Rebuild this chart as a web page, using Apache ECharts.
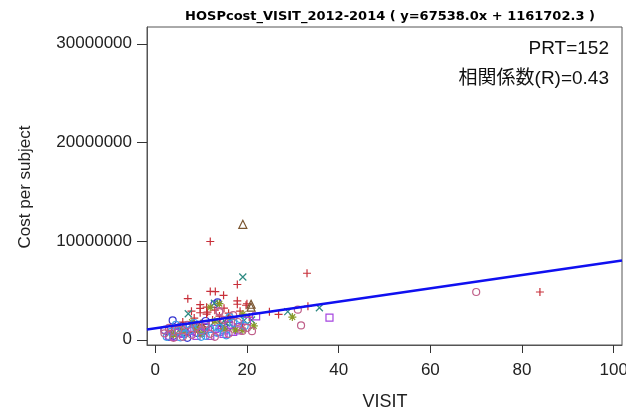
<!DOCTYPE html>
<html>
<head>
<meta charset="utf-8">
<script src="https://cdn.jsdelivr.net/npm/echarts@6/dist/echarts.min.js"></script>
<style>
  html, body { margin: 0; padding: 0; background: #fff; }
  #chart { width: 626px; height: 411px; }
</style>
</head>
<body>
<div id="chart"></div>
<script>
// Fit line coefficients (cost = slope * visits + intercept)
var fitSlope = 67538.0;
var fitIntercept = 1161702.3;

var titleText = 'HOSPcost_VISIT_2012-2014 ( y=67538.0x + 1161702.3 )';
var prtText = 'PRT=152';
var corrText = '相関係数(R)=0.43';

var xTicks = [0, 20, 40, 60, 80, 100];
var yTicks = [0, 10000000, 20000000, 30000000];

// Subjects by group: [visits, cost per subject]
var groupPlus = [
  [12, 9960000], [33.1, 6740000], [12, 4900000], [13.1, 4880000], [17.9, 5600000],
  [7.1, 4170000], [14.9, 4500000], [17.9, 3950000], [17.9, 3600000], [19.8, 3500000],
  [9.8, 3560000], [9.8, 3180000], [9.8, 2740000], [7.9, 2900000], [11.2, 3300000],
  [11.2, 2600000], [11.4, 2800000], [24.9, 2850000], [26.9, 2570000], [33.3, 3400000],
  [83.9, 4840000], [20, 3650000], [13, 3000000], [15, 3200000], [16, 2700000],
  [18.5, 2900000], [14, 2400000], [8.5, 2200000], [12.5, 2000000], [6, 1800000],
  [10, 1500000], [16.5, 2100000], [5, 1300000], [9, 1200000], [14, 1700000],
  [20.5, 2300000], [3.5, 900000], [7, 700000], [11, 1000000], [19, 1600000]
];
var groupX = [
  [19.1, 6360000], [7.2, 2640000], [12.9, 3700000], [19.4, 1960000], [28.9, 2850000],
  [35.8, 3250000], [14.3, 1600000], [15.5, 1700000], [8, 1500000], [5.5, 1100000],
  [10.5, 800000], [17, 1300000], [3, 600000], [12, 1400000], [21, 2000000]
];
var groupStar = [
  [12, 3300000], [14, 3660000], [19.1, 2600000], [29.9, 2300000], [19.1, 950000],
  [8, 1800000], [6, 800000], [10, 600000], [15, 1100000], [17.5, 1000000],
  [4, 500000], [13, 1900000], [21.5, 1400000], [9, 1100000]
];
var groupTriangle = [
  [19.1, 11700000], [20.9, 3600000], [20.9, 3300000], [16, 2200000], [10, 1600000]
];
var groupSquare = [
  [38, 2240000], [22, 2370000], [14.9, 600000], [18, 950000], [18, 1280000],
  [15.1, 950000], [6, 600000], [8, 900000], [10, 700000], [12, 400000],
  [4, 300000], [7, 1200000], [13, 1100000], [16, 1500000], [9, 400000],
  [11, 1300000], [20, 1900000], [5, 700000], [17, 800000], [3, 400000], [14, 800000]
];
var groupPinkCircle = [
  [70, 4840000], [31.1, 3050000], [31.8, 1450000], [21.1, 870000], [19, 900000],
  [14, 2800000], [14, 2900000], [2, 650000], [2, 950000], [4, 200000],
  [6, 300000], [8, 500000], [10, 900000], [12, 600000], [9, 1300000],
  [16, 600000], [18, 1800000], [5, 1000000], [11, 1600000], [13, 300000],
  [7, 1500000], [15, 2000000], [3, 1200000], [20, 1200000], [17, 2500000]
];
var groupBlueCircle = [
  [3.8, 1960000], [13.6, 3800000], [12.9, 3600000], [4, 400000], [5, 800000],
  [6, 1400000], [3, 300000], [7, 200000], [9, 700000], [11, 1900000],
  [2, 1000000], [15, 1300000], [8, 1100000]
];
var groupSkyCircle = [
  [16.2, 2300000], [4.5, 1500000], [6.5, 600000], [8.5, 1700000], [10, 300000],
  [12, 1100000], [14, 1200000], [17, 1700000], [18.5, 2100000], [11, 400000],
  [5.5, 250000], [7.5, 950000], [13.5, 700000], [19.5, 1400000], [3.5, 800000],
  [9.5, 1450000], [15.5, 450000], [2.5, 300000], [6, 1200000]
];

var xMin = -1.8, xMax = 101.8;
var yMin = -530000, yMax = 31700000;

var SYM_PLUS = 'path://M5,0 L5,10 M0,5 L10,5';
var SYM_X = 'path://M0,0 L10,10 M10,0 L0,10';
var SYM_STAR = 'path://M5,0 L5,10 M0,5 L10,5 M1.5,1.5 L8.5,8.5 M8.5,1.5 L1.5,8.5';

function markerSeries(name, data, symbol, size, color) {
  return {
    name: name,
    type: 'scatter',
    data: data,
    symbol: symbol,
    symbolSize: size,
    silent: true,
    itemStyle: { color: 'rgba(0,0,0,0)', borderColor: color, borderWidth: 1.2, opacity: 1 }
  };
}

var fitLine = [
  [xMin, fitSlope * xMin + fitIntercept],
  [xMax, fitSlope * xMax + fitIntercept]
];

var chart = echarts.init(document.getElementById('chart'), null, { renderer: 'canvas' });

var labelFont = 'Liberation Sans, Noto Sans CJK JP, sans-serif';

chart.setOption({
  animation: false,
  backgroundColor: '#fff',
  title: {
    text: titleText,
    left: 385,
    top: 5,
    textAlign: 'center',
    textStyle: { fontSize: 13, fontWeight: 'bold', color: '#000', fontFamily: 'DejaVu Sans, sans-serif' }
  },
  grid: {
    left: 147, right: 4, top: 27, bottom: 66,
    show: true, borderColor: '#555', borderWidth: 1,
    outerBoundsMode: 'none'
  },
  xAxis: {
    type: 'value',
    min: xMin, max: xMax,
    splitLine: { show: false },
    axisLine: { show: true, onZero: false, lineStyle: { color: '#555' } },
    axisTick: { show: true, customValues: xTicks, length: 8, lineStyle: { color: '#333' } },
    axisLabel: {
      customValues: xTicks, margin: 17, fontSize: 17, color: '#222', fontFamily: labelFont,
      formatter: function (v) { return String(v); }
    }
  },
  yAxis: {
    type: 'value',
    min: yMin, max: yMax,
    splitLine: { show: false },
    axisLine: { show: true, onZero: false, lineStyle: { color: '#555' } },
    axisTick: { show: true, customValues: yTicks, length: 10, lineStyle: { color: '#333' } },
    axisLabel: {
      customValues: yTicks, margin: 15, fontSize: 17, color: '#222', fontFamily: labelFont,
      formatter: function (v) { return String(v); }
    }
  },
  graphic: [
    {
      type: 'text', x: 25, y: 187, rotation: Math.PI / 2,
      style: { text: 'Cost per subject', fontSize: 17, fill: '#222', fontFamily: labelFont, textAlign: 'center', textVerticalAlign: 'middle' }
    },
    {
      type: 'text', x: 385, y: 402,
      style: { text: 'VISIT', fontSize: 18, fill: '#222', fontFamily: labelFont, textAlign: 'center', textVerticalAlign: 'middle' }
    },
    {
      type: 'text', x: 609, y: 49,
      style: { text: prtText, fontSize: 19, fill: '#111', fontFamily: labelFont, textAlign: 'right', textVerticalAlign: 'middle' }
    },
    {
      type: 'text', x: 609, y: 79,
      style: { text: corrText, fontSize: 19, fill: '#111', fontFamily: labelFont, textAlign: 'right', textVerticalAlign: 'middle' }
    }
  ],
  series: [
    markerSeries('g1', groupBlueCircle, 'circle', 7, '#3535d0'),
    markerSeries('g2', groupPlus, SYM_PLUS, 8, '#c8303a'),
    markerSeries('g3', groupX, SYM_X, 7, '#2e8a82'),
    markerSeries('g4', groupTriangle, 'triangle', 8, '#7a5530'),
    markerSeries('g5', groupSquare, 'rect', 7, '#a545e0'),
    markerSeries('g6', groupStar, SYM_STAR, 8, '#8a9a2a'),
    markerSeries('g7', groupSkyCircle, 'circle', 7, '#3c9ee6'),
    markerSeries('g8', groupPinkCircle, 'circle', 7, '#c0608a'),
    {
      name: 'fit',
      type: 'line',
      data: fitLine,
      symbol: 'none',
      silent: true,
      clip: true,
      lineStyle: { color: '#1010f0', width: 2.5 },
      z: 5
    }
  ]
});
</script>
</body>
</html>
